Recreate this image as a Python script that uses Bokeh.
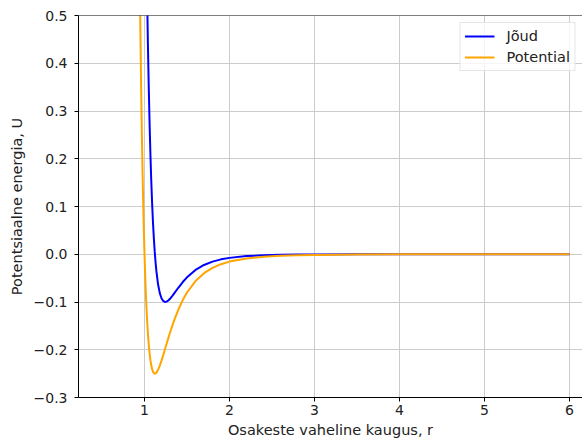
from bokeh.plotting import figure
from bokeh.models import Range1d, FixedTicker, CustomJSTickFormatter, Span, Legend, LegendItem
from bokeh.embed import file_html
from bokeh.resources import INLINE

# distance r
r = [0.94, 0.95, 0.96, 0.97, 0.98, 0.99,
     1.00, 1.01, 1.02, 1.03, 1.04, 1.05, 1.06, 1.07, 1.08, 1.09, 1.10, 1.11,
     1.12, 1.13, 1.14, 1.16, 1.18, 1.20, 1.22, 1.24, 1.26, 1.28, 1.30,
     1.33, 1.36, 1.40, 1.45, 1.50,
     1.60, 1.70, 1.80, 1.90, 2.00,
     2.20, 2.40, 2.60, 2.80, 3.00,
     3.50, 4.00, 5.00, 6.00]

# "Jõud" series (blue)
force = [2.929, 2.464, 2.069, 1.734, 1.449, 1.207,
         1.000, 0.825, 0.676, 0.549, 0.441, 0.350, 0.273, 0.207, 0.152, 0.105, 0.066, 0.0334,
         0.006, -0.0167, -0.0355, -0.0634, -0.0813, -0.0922, -0.0978, -0.0998, -0.0992, -0.0969, -0.0933,
         -0.0868, -0.0795, -0.0697, -0.0582, -0.0483,
         -0.0328, -0.0224, -0.0154, -0.0107, -0.0076,
         -0.0039, -0.0022, -0.0012, -0.0007, -0.0005,
         -0.0002, -0.0001, 0.0, 0.0]

# "Potential" series (orange)
potential = [0.652, 0.490, 0.355, 0.241, 0.146, 0.066,
             0.0, -0.0546, -0.0995, -0.1361, -0.1657, -0.1894, -0.2080, -0.2223, -0.2331, -0.2407, -0.2458, -0.2488,
             -0.2500, -0.2496, -0.2480, -0.2420, -0.2332, -0.2227, -0.2113, -0.1994, -0.1875, -0.1757, -0.1643,
             -0.1480, -0.1331, -0.1152, -0.0960, -0.0801,
             -0.0561, -0.0397, -0.0285, -0.0208, -0.0154,
             -0.0087, -0.0052, -0.0032, -0.0021, -0.0014,
             -0.0005, -0.0002, -0.0001, 0.0]

x_ticks = [1, 2, 3, 4, 5, 6]
y_ticks = [-0.3, -0.2, -0.1, 0.0, 0.1, 0.2, 0.3, 0.4, 0.5]
series_names = ["Jõud", "Potential"]
x_label = "Osakeste vaheline kaugus, r"
y_label = "Potentsiaalne energia, U"

FONT = "DejaVu Sans"

p = figure(width=582, height=442,
           x_range=Range1d(0.2235, 6.153), y_range=Range1d(-0.3, 0.5),
           output_backend="svg", toolbar_location=None,
           min_border_left=78, min_border_right=0, min_border_top=15, min_border_bottom=45)
p.background_fill_color = "white"
p.border_fill_color = "white"
p.outline_line_color = None

p.xaxis.ticker = FixedTicker(ticks=x_ticks)
p.yaxis.ticker = FixedTicker(ticks=y_ticks)
p.xgrid.ticker = FixedTicker(ticks=x_ticks)
p.ygrid.ticker = FixedTicker(ticks=y_ticks)
p.yaxis.formatter = CustomJSTickFormatter(code="return tick.toFixed(1).replace('-', '\u2212');")
p.xaxis.formatter = CustomJSTickFormatter(code="return tick.toFixed(0);")

for ax in (p.xaxis[0], p.yaxis[0]):
    ax.axis_line_color = "black"
    ax.axis_line_width = 1
    ax.major_tick_line_color = "black"
    ax.major_tick_out = 4
    ax.major_tick_in = 0
    ax.minor_tick_line_color = None
    ax.major_label_text_font = FONT
    ax.major_label_text_font_size = "14px"
    ax.major_label_text_color = "#222222"
    ax.axis_label_text_font = FONT
    ax.axis_label_text_font_size = "14.5px"
    ax.axis_label_text_font_style = "normal"
    ax.axis_label_text_color = "#222222"

p.xaxis.axis_label = x_label
p.yaxis.axis_label = y_label
p.xaxis.major_label_standoff = 3
p.xaxis.axis_label_standoff = 4
p.yaxis.major_label_standoff = 7
p.yaxis.axis_label_standoff = 6

p.grid.grid_line_color = "#cccccc"
p.grid.grid_line_width = 1

top_spine = Span(location=0.5, dimension="width", line_color="black", line_width=1)
p.add_layout(top_spine)

l1 = p.line(r, force, line_color="blue", line_width=2)
l2 = p.line(r, potential, line_color="orange", line_width=2)

legend = Legend(items=[LegendItem(label=series_names[0], renderers=[l1]),
                       LegendItem(label=series_names[1], renderers=[l2])],
                location="top_right")
legend.label_text_font = FONT
legend.label_text_font_size = "14.5px"
legend.label_text_color = "#222222"
legend.glyph_width = 30
legend.glyph_height = 18
legend.label_height = 18
legend.label_standoff = 12
legend.spacing = 3
legend.padding = 4
legend.margin = 7
legend.border_line_color = "#cccccc"
legend.border_line_width = 1
legend.background_fill_alpha = 0.8
p.add_layout(legend)

open("out.html", "w").write(file_html(p, INLINE))
